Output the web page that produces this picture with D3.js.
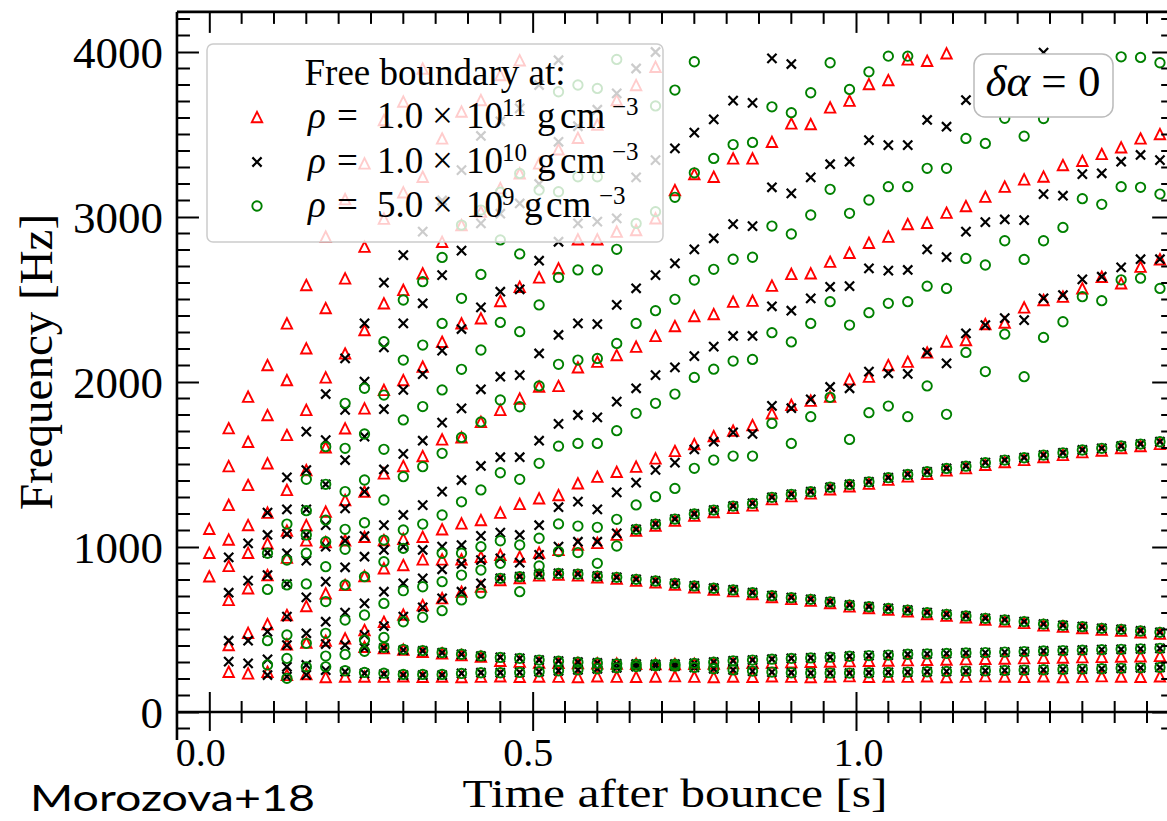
<!DOCTYPE html>
<html>
<head>
<meta charset="utf-8">
<script src="https://cdn.jsdelivr.net/npm/d3@7"></script>
<style>
  body { margin: 0; background: #fff; }
  svg { display: block; }
  text { font-family: "Liberation Serif", "DejaVu Serif", serif; fill: #000; }
</style>
</head>
<body>
<svg id="chart" width="1167" height="821"></svg>
<script>
// Time after bounce [s] of every mode-analysis snapshot
const times = [0.00,0.03,0.06,0.09,0.12,0.15,0.18,0.21,0.24,0.27,0.30,0.33,0.36,0.39,0.42,0.45,0.48,0.51,0.54,0.57,
               0.60,0.63,0.66,0.69,0.72,0.75,0.78,0.81,0.84,0.87,0.90,0.93,0.96,0.99,1.02,1.05,1.08,1.11,1.14,1.17,
               1.20,1.23,1.26,1.29,1.32,1.35,1.38,1.41,1.44,1.47];

// Eigenfrequencies [Hz] per snapshot, free boundary at rho = 1.0e11 g/cm^3
const freqRho11 = [
  [1110, 965, 822],
  [1720, 1490, 1255, 1045, 885, 679, 406, 244],
  [1911, 1638, 1376, 1133, 965, 750, 480, 234],
  [2103, 1800, 1507, 1208, 1022, 830, 533, 244],
  [2355, 2012, 1679, 1346, 1100, 935, 588, 410, 225],
  [2588, 2204, 1831, 1466, 1133, 1040, 642, 420, 230],
  [2881, 2448, 2028, 1604, 1214, 1030, 719, 432, 212],
  [3108, 2628, 2173, 1719, 1285, 1040, 770, 446, 215],
  [3325, 2820, 2315, 1840, 1336, 1062, 824, 497, 395, 215],
  [3588, 2990, 2477, 1952, 1446, 1042, 871, 547, 388, 214],
  [3700, 3150, 2558, 2012, 1491, 1050, 891, 590, 378, 216],
  [3900, 3244, 2659, 2093, 1551, 1062, 925, 648, 365, 213],
  [3476, 2850, 2244, 1652, 1107, 925, 690, 355, 215],
  [3639, 2951, 2355, 1664, 1143, 925, 729, 345, 212],
  [3709, 3032, 2386, 1758, 1163, 941, 760, 335, 214],
  [3860, 3175, 2491, 1831, 1208, 952, 800, 310, 216],
  [3950, 3264, 2577, 1900, 1261, 942, 812, 305, 213],
  [3325, 2634, 1972, 1295, 966, 828, 300, 215],
  [3410, 2689, 1976, 1315, 982, 832, 298, 214],
  [3480, 2865, 2089, 1386, 1015, 828, 296, 212],
  [3560, 2865, 2123, 1426, 1025, 816, 295, 216],
  [3709, 2911, 2163, 1456, 1075, 808, 293, 214],
  [3800, 2921, 2214, 1487, 1100, 796, 292, 213],
  [3910, 2992, 2279, 1537, 1130, 786, 290, 215],
  [3163, 2339, 1582, 1160, 772, 290, 217],
  [3260, 2400, 1624, 1190, 756, 292, 214],
  [3244, 2412, 1672, 1212, 742, 294, 212],
  [3355, 2487, 1705, 1237, 732, 296, 215],
  [3355, 2493, 1739, 1252, 715, 298, 213],
  [3456, 2584, 1810, 1290, 697, 300, 216],
  [3567, 2655, 1861, 1308, 685, 302, 214],
  [3563, 2659, 1887, 1325, 675, 304, 212],
  [3664, 2729, 1911, 1350, 660, 306, 215],
  [3705, 2783, 2016, 1368, 640, 308, 217],
  [3806, 2844, 2032, 1384, 630, 310, 213],
  [3830, 2881, 2103, 1408, 620, 312, 215],
  [3955, 2957, 2123, 1428, 610, 314, 214],
  [3947, 2965, 2179, 1444, 594, 316, 216],
  [3992, 3026, 2245, 1464, 584, 318, 212],
  [3066, 2254, 1478, 574, 320, 214],
  [3123, 2351, 1498, 560, 322, 217],
  [3184, 2360, 1515, 550, 324, 215],
  [3228, 2452, 1528, 540, 326, 213],
  [3245, 2497, 1545, 525, 328, 216],
  [3315, 2517, 1558, 517, 330, 212],
  [3341, 2568, 1575, 509, 332, 214],
  [3382, 2638, 1585, 499, 334, 217],
  [3422, 2598, 1600, 493, 336, 215],
  [3476, 2699, 1612, 483, 338, 213],
  [3503, 2744, 1625, 475, 340, 216]
];

// Eigenfrequencies [Hz] per snapshot, free boundary at rho = 1.0e10 g/cm^3
const freqRho10 = [
  [],
  [937, 723, 432, 305],
  [1022, 796, 432, 295],
  [1208, 1073, 965, 830, 487, 319, 224],
  [1422, 1228, 1079, 962, 776, 578, 406, 274, 214],
  [1699, 1466, 1228, 1073, 917, 695, 477, 285, 225],
  [1927, 1648, 1380, 1133, 1002, 790, 547, 412, 254],
  [2143, 1831, 1527, 1234, 1038, 877, 602, 406, 244],
  [2355, 2002, 1669, 1336, 1066, 941, 658, 467, 388, 234],
  [2602, 2210, 1835, 1470, 1133, 982, 729, 521, 388, 230],
  [2769, 2355, 1952, 1564, 1194, 1002, 780, 578, 375, 224],
  [2911, 2477, 2048, 1644, 1254, 982, 810, 634, 370, 224],
  [3100, 2648, 2190, 1754, 1336, 1002, 865, 689, 359, 224],
  [3284, 2796, 2321, 1840, 1406, 1012, 897, 729, 349, 234],
  [3491, 2961, 2452, 1956, 1491, 1067, 921, 780, 339, 238],
  [3580, 3020, 2547, 2032, 1544, 1087, 931, 810, 331, 238],
  [3658, 3082, 2562, 2042, 1544, 1073, 905, 820, 325, 240],
  [3800, 3200, 2735, 2173, 1644, 1132, 952, 836, 315, 244],
  [3950, 3456, 2850, 2285, 1746, 1241, 1002, 840, 308, 250],
  [3550, 2961, 2355, 1800, 1275, 1032, 836, 302, 256],
  [3650, 2972, 2351, 1786, 1228, 1032, 824, 297, 262],
  [3749, 2992, 2467, 1881, 1331, 1083, 816, 292, 268],
  [3900, 3240, 2568, 1962, 1390, 1107, 804, 290, 275],
  [4000, 3345, 2648, 2042, 1467, 1139, 794, 288, 280],
  [3416, 2719, 2089, 1511, 1169, 780, 290, 278],
  [3511, 2804, 2157, 1591, 1200, 764, 295, 270],
  [3592, 2871, 2214, 1638, 1224, 750, 302, 262],
  [3705, 2957, 2279, 1695, 1248, 740, 310, 255],
  [3692, 2945, 2279, 1685, 1264, 723, 315, 248],
  [3961, 3180, 2459, 1855, 1301, 705, 320, 242],
  [3927, 3143, 2432, 1841, 1319, 693, 325, 238],
  [3240, 2507, 1895, 1335, 683, 328, 236],
  [3320, 2577, 1970, 1362, 668, 332, 236],
  [3335, 2581, 1962, 1379, 648, 338, 236],
  [3466, 2689, 2063, 1395, 638, 342, 238],
  [3436, 2675, 2053, 1420, 628, 345, 240],
  [3436, 2679, 2049, 1440, 618, 350, 242],
  [3588, 2804, 2179, 1456, 602, 352, 244],
  [3547, 2757, 2113, 1476, 592, 355, 246],
  [3709, 2911, 2295, 1490, 582, 358, 248],
  [3780, 2969, 2345, 1511, 568, 360, 250],
  [3850, 2985, 2387, 1527, 558, 363, 252],
  [3920, 2981, 2375, 1541, 548, 366, 254],
  [3996, 3139, 2507, 1557, 533, 370, 256],
  [3129, 2527, 1571, 525, 372, 258],
  [3260, 2622, 1588, 517, 375, 260],
  [3265, 2638, 1598, 507, 378, 262],
  [3335, 2695, 1612, 501, 380, 265],
  [3376, 2744, 1624, 491, 383, 268],
  [3345, 2744, 1638, 483, 386, 270]
];

// Eigenfrequencies [Hz] per snapshot, free boundary at rho = 5.0e9 g/cm^3
const freqRho5e9 = [
  [], [], [],
  [962, 743, 432, 285],
  [1139, 921, 770, 467, 325, 204],
  [1410, 1220, 1073, 962, 776, 416, 274],
  [1608, 1380, 1163, 1032, 881, 669, 477, 339, 274],
  [1871, 1598, 1336, 1107, 986, 770, 557, 349, 250],
  [1962, 1685, 1406, 1147, 820, 588, 436, 368, 240],
  [2244, 1921, 1592, 1285, 1042, 911, 658, 452, 392, 235],
  [2497, 2133, 1770, 1426, 1103, 992, 735, 547, 380, 228],
  [2608, 2224, 1851, 1487, 1139, 759, 574, 372, 228],
  [2755, 2355, 1952, 1568, 1194, 962, 790, 614, 360, 228],
  [2951, 2507, 2077, 1664, 1274, 962, 830, 679, 350, 234],
  [3042, 2652, 2194, 1758, 1346, 1002, 860, 720, 340, 238],
  [3150, 2861, 2361, 1891, 1450, 1038, 901, 810, 331, 238],
  [3264, 2776, 2305, 1850, 1410, 1012, 820, 729, 325, 240],
  [3163, 2467, 1976, 1507, 1053, 885, 836, 315, 244],
  [3759, 3153, 2634, 2107, 1611, 1140, 972, 840, 308, 250],
  [3800, 3244, 2679, 2133, 1628, 1127, 966, 836, 302, 256],
  [3779, 3244, 2679, 2143, 1628, 1119, 901, 824, 297, 262],
  [3955, 2804, 2234, 1705, 1168, 1006, 816, 292, 268],
  [2961, 2355, 1810, 1255, 1107, 804, 290, 275],
  [3673, 3032, 2432, 1871, 1305, 1139, 794, 288, 280],
  [3769, 3119, 2501, 1927, 1355, 1169, 780, 290, 278],
  [3941, 3268, 2618, 2028, 1477, 1200, 764, 295, 270],
  [3355, 2683, 2078, 1527, 1224, 750, 302, 262],
  [3439, 2744, 2127, 1551, 1248, 740, 310, 255],
  [3452, 2756, 2137, 1551, 1264, 723, 315, 248],
  [3668, 2945, 2299, 1749, 1301, 705, 320, 242],
  [3632, 2897, 2243, 1628, 1319, 693, 325, 238],
  [3753, 3012, 2355, 1790, 1335, 683, 328, 236],
  [3935, 3168, 2487, 1907, 1362, 668, 332, 236],
  [3773, 3022, 2345, 1652, 1379, 648, 338, 236],
  [3880, 3103, 2420, 1814, 1395, 638, 342, 238],
  [3975, 3184, 2477, 1854, 1420, 628, 345, 240],
  [3975, 3184, 2487, 1790, 1440, 618, 350, 242],
  [3295, 2581, 1976, 1456, 602, 352, 244],
  [3295, 2567, 1804, 1476, 592, 355, 246],
  [3476, 2749, 2179, 1490, 582, 358, 248],
  [3446, 2709, 2063, 1511, 568, 360, 250],
  [3598, 2856, 2290, 1527, 558, 363, 252],
  [3490, 2743, 2032, 1541, 548, 366, 254],
  [3597, 2856, 2270, 1557, 533, 370, 256],
  [2937, 2365, 1571, 525, 372, 258],
  [3111, 2517, 1588, 517, 375, 260],
  [3077, 2493, 1598, 507, 378, 262],
  [3971, 3184, 2619, 1612, 501, 380, 265],
  [3967, 3180, 2629, 1624, 491, 383, 268],
  [3935, 3139, 2567, 1638, 483, 386, 270]
];

const seriesNames = ["rho11", "rho10", "rho5e9"];
const seriesColors = ["#ff0000", "#000000", "#008000"];
const seriesMarkers = ["triangle", "cross", "circle"];
const legendMantissa = ["1.0", "1.0", "5.0"];
const legendExponent = ["11", "10", "9"];

const xTickValues = [0.0, 0.5, 1.0];
const yTickValues = [0, 1000, 2000, 3000, 4000];

// ---------------------------------------------------------------------------
const svg = d3.select("#chart");

const x = d3.scaleLinear().domain([0, 1]).range([209.3, 856]);
const y = d3.scaleLinear().domain([0, 4000]).range([712, 52]);
const xLo = -0.05, xHi = 1.492, yLo = -170, yHi = 4243;
const L = x(xLo), R = x(xHi), T = y(yHi), B = y(yLo);

svg.append("defs").append("clipPath").attr("id", "plotClip")
  .append("rect").attr("x", L).attr("y", T).attr("width", R - L).attr("height", B - T);

// marker path generators
function markerPath(kind) {
  if (kind === "triangle") { const s = 5.2; return `M0,${-s}L${s},${s}L${-s},${s}Z`; }
  if (kind === "cross") { const s = 4.6; return `M${-s},${-s}L${s},${s}M${-s},${s}L${s},${-s}`; }
  const r = 4.7; return `M${r},0A${r},${r} 0 1,1 ${-r},0A${r},${r} 0 1,1 ${r},0Z`;
}
const strokeW = { triangle: 1.9, cross: 2.2, circle: 1.9 };

// ---- data points
const allSeries = [freqRho11, freqRho10, freqRho5e9];
const pts = svg.append("g").attr("clip-path", "url(#plotClip)");
allSeries.forEach((series, si) => {
  const flat = [];
  series.forEach((list, ti) => list.forEach(f => flat.push({ t: times[ti], f })));
  pts.append("g").attr("class", seriesNames[si])
    .selectAll("path").data(flat).join("path")
    .attr("transform", d => `translate(${x(d.t)},${y(d.f)})`)
    .attr("d", markerPath(seriesMarkers[si]))
    .attr("fill", "none")
    .attr("stroke", seriesColors[si])
    .attr("stroke-width", strokeW[seriesMarkers[si]]);
});

// ---- axes
const minorY = d3.range(-100, 4250, 100).filter(v => v % 1000 !== 0);
const minorX = d3.range(-0.05, 1.5, 0.05).map(v => +v.toFixed(2)).filter(v => Math.abs(v * 2 - Math.round(v * 2)) > 1e-6);

const axisStroke = 2.6;
const axes = svg.append("g");

// left axis
const gLeft = axes.append("g").attr("transform", `translate(${L},0)`)
  .call(d3.axisLeft(y).tickValues(yTickValues).tickSize(-22).tickPadding(14).tickFormat(d3.format("d")));
gLeft.append("g").selectAll("line").data(minorY).join("line")
  .attr("x1", 0).attr("x2", 13).attr("y1", d => y(d)).attr("y2", d => y(d));
// right axis (ticks only, spine lies at the page edge)
const gRight = axes.append("g").attr("transform", `translate(${R},0)`)
  .call(d3.axisRight(y).tickValues(yTickValues).tickSize(-22).tickFormat(""));
gRight.append("g").selectAll("line").data(minorY).join("line")
  .attr("x1", 0).attr("x2", -13).attr("y1", d => y(d)).attr("y2", d => y(d));
// top axis
const gTop = axes.append("g").attr("transform", `translate(0,${T})`)
  .call(d3.axisTop(x).tickValues(xTickValues).tickSize(-21).tickFormat(""));
gTop.append("g").selectAll("line").data(minorX).join("line")
  .attr("x1", d => x(d)).attr("x2", d => x(d)).attr("y1", 0).attr("y2", 12);
// bottom axis through zero, ticks crossing the line
const gBottom = axes.append("g").attr("transform", `translate(0,${y(0)})`)
  .call(d3.axisBottom(x).tickValues(xTickValues).tickSize(19).tickPadding(10).tickFormat(d3.format(".1f")));
gBottom.selectAll(".tick line").attr("y1", -20);
gBottom.append("g").selectAll("line").data(minorX).join("line")
  .attr("x1", d => x(d)).attr("x2", d => x(d)).attr("y1", -11).attr("y2", 11);

[gLeft, gRight, gTop, gBottom].forEach(g => {
  g.select(".domain").remove();
  g.selectAll("line").attr("stroke", "#000").attr("stroke-width", 2);
  g.selectAll(".tick text").attr("fill", "#000").style("font-family", '"Liberation Serif", serif');
});
gLeft.selectAll(".tick text").style("font-size", "45px").attr("dy", "0.34em");
// the math-mode labels sit slightly off their ticks
const xLabelShift = { "0": -9, "0.5": -5, "1": 2 };
gBottom.selectAll(".tick text").style("font-size", "40px").attr("dy", "0.62em")
  .attr("dx", d => xLabelShift[String(d)] || 0);

// spines
axes.append("line").attr("x1", L).attr("x2", L).attr("y1", T).attr("y2", B)
  .attr("stroke", "#000").attr("stroke-width", axisStroke);
axes.append("line").attr("x1", L).attr("x2", R).attr("y1", T).attr("y2", T)
  .attr("stroke", "#000").attr("stroke-width", axisStroke);
axes.append("line").attr("x1", L).attr("x2", R).attr("y1", y(0)).attr("y2", y(0))
  .attr("stroke", "#000").attr("stroke-width", axisStroke);
axes.append("line").attr("x1", R).attr("x2", R).attr("y1", T).attr("y2", B)
  .attr("stroke", "#000").attr("stroke-width", axisStroke);

// axis titles
svg.append("text").attr("transform", "translate(52,362) rotate(-90)")
  .attr("text-anchor", "middle").style("font-size", "47px").text("Frequency [Hz]");
svg.append("text").attr("x", 675).attr("y", 807)
  .attr("text-anchor", "middle").style("font-size", "40px")
  .attr("textLength", 425).attr("lengthAdjust", "spacingAndGlyphs")
  .text("Time after bounce [s]");

// ---- legend
const lg = svg.append("g");
lg.append("rect").attr("x", 207).attr("y", 44).attr("width", 456).attr("height", 198)
  .attr("rx", 6).attr("fill", "#fff").attr("fill-opacity", 0.8)
  .attr("stroke", "#cccccc").attr("stroke-width", 1.5);
lg.append("text").attr("x", 435).attr("y", 85).attr("text-anchor", "middle")
  .style("font-size", "37px").text("Free boundary at:");

const rowBase = [128, 173, 217];
seriesNames.forEach((name, i) => {
  const by = rowBase[i];
  lg.append("path").attr("transform", `translate(257,${by - 11})`)
    .attr("d", markerPath(seriesMarkers[i])).attr("fill", "none")
    .attr("stroke", seriesColors[i]).attr("stroke-width", strokeW[seriesMarkers[i]]);
  const tx = lg.append("text").attr("y", by).style("font-size", "37px");
  const narrow = legendExponent[i].length === 1;
  tx.append("tspan").attr("x", 308).style("font-style", "italic").text("ρ");
  tx.append("tspan").attr("x", 337).text("=");
  tx.append("tspan").attr("x", 377).text(legendMantissa[i]);
  tx.append("tspan").attr("x", 432).text("×");
  tx.append("tspan").attr("x", 466).text("10");
  tx.append("tspan").attr("x", 502).attr("dy", -12).style("font-size", "25px").text(legendExponent[i]);
  tx.append("tspan").attr("x", narrow ? 524 : 537).attr("dy", 12).text("g");
  tx.append("tspan").attr("x", narrow ? 546 : 560).text("cm");
  tx.append("tspan").attr("x", narrow ? 599 : 612).attr("dy", -13).style("font-size", "25px").text("−3");
});

// ---- model annotation box
const ab = svg.append("g");
ab.append("rect").attr("x", 974).attr("y", 54).attr("width", 139).attr("height", 63)
  .attr("rx", 11).attr("fill", "#fff").attr("stroke", "#bbbbbb").attr("stroke-width", 1.5);
const at = ab.append("text").attr("x", 1043).attr("y", 96).attr("text-anchor", "middle").style("font-size", "45px");
at.append("tspan").style("font-style", "italic").text("δα");
at.append("tspan").text(" = 0");

// ---- simulation tag
svg.append("text").attr("x", 30).attr("y", 811)
  .style("font-family", "Lato, 'DejaVu Sans', sans-serif").style("font-weight", 400)
  .style("font-size", "37px").attr("textLength", 285).attr("lengthAdjust", "spacingAndGlyphs")
  .text("Morozova+18");
</script>
</body>
</html>
